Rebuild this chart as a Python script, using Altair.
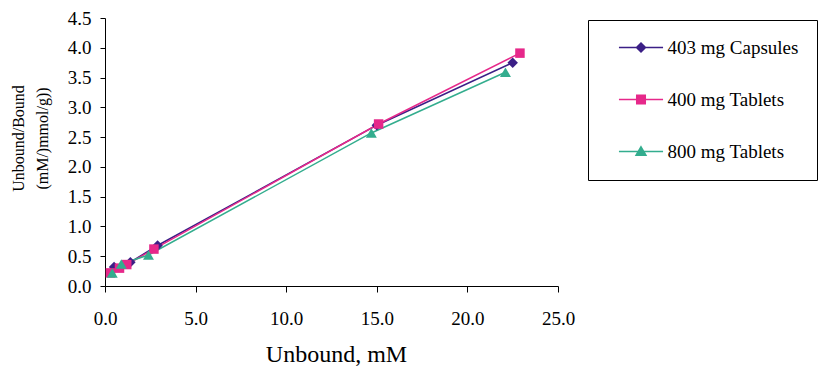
import altair as alt
import pandas as pd

# ---- data ----
series_names = ["403 mg Capsules", "400 mg Tablets", "800 mg Tablets"]

caps_x = [0.5, 1.4, 2.9, 15.0, 22.5]
caps_y = [0.32, 0.40, 0.68, 2.70, 3.75]

tab400_x = [0.3, 0.8, 1.2, 2.7, 15.1, 22.9]
tab400_y = [0.22, 0.30, 0.36, 0.62, 2.72, 3.91]

tab800_x = [0.4, 0.9, 2.4, 14.7, 22.1]
tab800_y = [0.22, 0.37, 0.52, 2.57, 3.59]

x_ticks = [0, 5, 10, 15, 20, 25]
y_ticks = [0, 0.5, 1.0, 1.5, 2.0, 2.5, 3.0, 3.5, 4.0, 4.5]

# ---- styles ----
colors = ["#3b1f86", "#e6288a", "#33ad8e"]
shapes = ["diamond", "square", "triangle-up"]
sizes = [110, 90, 120]
legend_paths = [
    "M-4.9,0H4.9M-1,0L0,-1L1,0L0,1Z",
    "M-4.9,0H4.9M-0.95,-0.95H0.95V0.95H-0.95Z",
    "M-4.9,0H4.9M0,-1.05L1.1,0.85L-1.1,0.85Z",
]
FONT = "Liberation Serif"

rows = []
for name, xs, ys in zip(series_names, [caps_x, tab400_x, tab800_x], [caps_y, tab400_y, tab800_y]):
    for xv, yv in zip(xs, ys):
        rows.append({"series": name, "unbound": xv, "ratio": yv})
df = pd.DataFrame(rows)

x_enc = alt.X(
    "unbound:Q",
    scale=alt.Scale(domain=[0, 25], nice=False, zero=True),
    axis=alt.Axis(
        values=x_ticks, format=".1f", title="Unbound, mM",
        tickSize=6, labelPadding=17, labelFont=FONT, labelFontSize=19,
        labelFlush=False, labelOverlap=False,
        titleFontSize=24, titleX=231, titleY=75, titleBaseline="alphabetic", titleAlign="center",
    ),
)
y_enc = alt.Y(
    "ratio:Q",
    scale=alt.Scale(domain=[0, 4.5], nice=False, zero=True),
    axis=alt.Axis(
        values=y_ticks, format=".1f", title=["Unbound/Bound", "(mM/)mmol/g))"],
        tickSize=5, labelPadding=9, labelFont=FONT, labelFontSize=19,
        labelFlush=False, labelOverlap=False,
        titleFontSize=16, titleLineHeight=24, titleAngle=270, titleBaseline="bottom",
        titleAlign="center", titleX=-79, titleY=120,
    ),
)
# colour scale for the drawn marks (no legend of its own)
color_enc = alt.Color(
    "series:N",
    scale=alt.Scale(domain=series_names[::-1], range=colors[::-1]),
    legend=None,
)

lines = alt.Chart(df).mark_line(strokeWidth=1.5).encode(
    x=x_enc, y=y_enc, color=color_enc, order=alt.Order("unbound:Q")
)

point_layers = []
for name, shp, sz in zip(series_names, shapes, sizes):
    point_layers.append(
        alt.Chart(df)
        .transform_filter(alt.datum.series == name)
        .mark_point(shape=shp, filled=True, size=sz, opacity=1)
        .encode(x=x_enc, y=y_enc, color=color_enc)
    )

legend_def = alt.Legend(
    title=None, orient="none", legendX=483, legendY=2,
    symbolSize=81, symbolStrokeWidth=1.5, symbolOffset=25.5, symbolOpacity=1,
    labelOffset=17, labelFont=FONT, labelFontSize=19, labelColor="black",
    labelLimit=400, padding=18, rowPadding=32,
    strokeColor="black",
)

# invisible layer that only carries the legend (line + marker symbols)
legend_layer = (
    alt.Chart(df)
    .mark_point(filled=True, opacity=0, size=81)
    .encode(
        x=x_enc,
        y=y_enc,
        fill=alt.Fill("series:N", scale=alt.Scale(domain=series_names, range=colors), legend=legend_def),
        stroke=alt.Stroke("series:N", scale=alt.Scale(domain=series_names, range=colors), legend=legend_def),
        shape=alt.Shape("series:N", scale=alt.Scale(domain=series_names, range=legend_paths), legend=legend_def),
    )
)

chart = (
    alt.layer(lines, *point_layers, legend_layer)
    .properties(
        width=453, height=268,
        autosize=alt.AutoSizeParams(type="none"),
        padding={"left": 97, "top": 10, "right": 261, "bottom": 81},
    )
    .configure_view(stroke=None)
    .configure_axis(
        grid=False, domainColor="black", tickColor="black", labelColor="black",
        titleColor="black", labelFont=FONT, titleFont=FONT, titleFontWeight="normal",
        domainWidth=1, tickWidth=1,
    )
)

chart.save("out.html", embed_options={"renderer": "svg", "actions": False})
